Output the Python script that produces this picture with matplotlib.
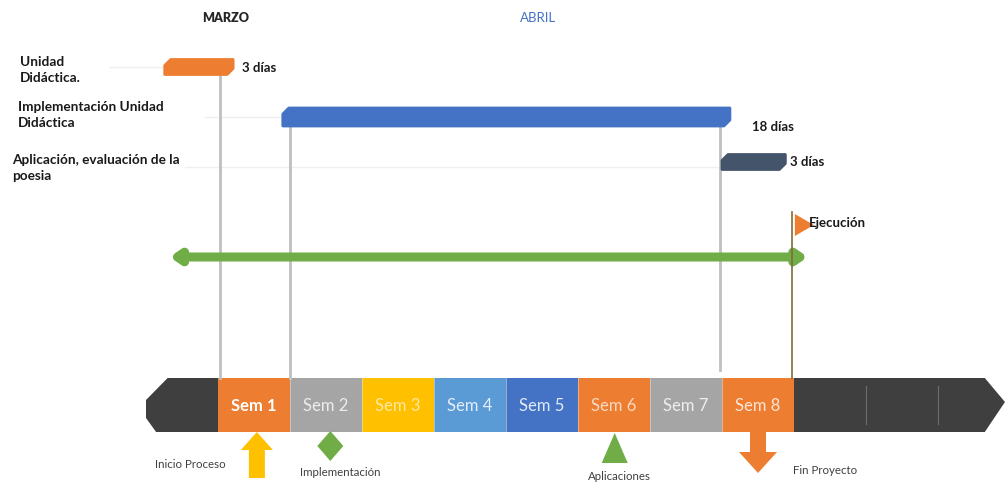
import matplotlib
matplotlib.use("Agg")
import matplotlib.pyplot as plt
from matplotlib.patches import Polygon
import numpy as np

# ---------------- data ----------------
weeks = ["Sem 1", "Sem 2", "Sem 3", "Sem 4", "Sem 5", "Sem 6", "Sem 7", "Sem 8"]
week_colors = ["#ED7D31", "#A5A5A5", "#FFC000", "#5B9BD5", "#4472C4", "#ED7D31", "#A5A5A5", "#ED7D31"]
week_text_colors = ["#FFFFFF", "#ECECEC", "#FFE9A0", "#E2EEF9", "#E2EAF7", "#FAD9C2", "#EEEEEE", "#FCE4D4"]

tasks = ["Unidad\nDidáctica.", "Implementación Unidad\nDidáctica", "Aplicación, evaluación de la\npoesia"]
task_start = [-0.74, 0.90, 7.00]   # in weeks (0 = start of Sem 1)
task_end = [0.21, 7.11, 7.88]
task_days = ["3 días", "18 días", "3 días"]
task_colors = ["#ED7D31", "#4472C4", "#44546A"]

exec_range = [-0.67, 8.19]        # green execution line
exec_milestone = 7.97
exec_label = "Ejecución"

milestones = ["Inicio Proceso", "Implementación", "Aplicaciones", "Fin Proyecto"]
milestone_pos = [0.54, 1.56, 5.51, 7.50]

months = ["MARZO", "ABRIL"]
month_pos = [0.10, 4.45]
month_colors = ["#262626", "#4472C4"]

# ---------------- layout ----------------
W, H = 1006, 482
X0, WK = 218.0, 72.0          # pixel position of week 0, pixel width of a week
fig = plt.figure(figsize=(W / 100, H / 100), dpi=100)
ax = fig.add_axes([0, 0, 1, 1])
ax.set_xlim(-X0 / WK, (W - X0) / WK)
ax.set_ylim(H, 0)
ax.axis("off")
px = 1.0 / WK  # one pixel in x-data units

LBL = ["Lato", "DejaVu Sans"]

# timeline band
tl_top, tl_bot = 378, 432
n = len(weeks)
left_end = -1.0
right_end = n + 2.65
dark = "#3F3F3F"
ax.add_patch(Polygon([(0, tl_top), (left_end + 0.3, tl_top), (left_end, 400), (left_end, 418),
                      (left_end + 0.14, tl_bot), (0, tl_bot)], closed=True, fc=dark, ec="none"))
ax.add_patch(Polygon([(n, tl_top), (right_end, tl_top), (right_end + 0.28, 402),
                      (right_end, tl_bot), (n, tl_bot)], closed=True, fc=dark, ec="none"))
for d in [n + 1, n + 2]:
    ax.plot([d, d], [tl_top + 8, tl_bot - 8], color="#6E6E6E", lw=0.8)
for i, (wname, c, tc) in enumerate(zip(weeks, week_colors, week_text_colors)):
    ax.add_patch(Polygon([(i, tl_top), (i + 1, tl_top), (i + 1, tl_bot), (i, tl_bot)],
                         closed=True, fc=c, ec="none"))
    if i > 0:
        ax.plot([i, i], [tl_top, tl_bot], color="#E6E6E6", lw=0.6, alpha=0.6)
    ax.text(i + 0.5, (tl_top + tl_bot) / 2 + 1, wname, color=tc, ha="center", va="center",
            fontsize=12, family=LBL, fontweight="bold" if i == 0 else "normal")

# month headers
for k, (m, p, c) in enumerate(zip(months, month_pos, month_colors)):
    ax.text(p, 18, m, ha="center", va="center", fontsize=9 if k == 0 else 9.5,
            color=c, family=LBL, fontweight="heavy" if k == 0 else "normal")

# task rows
row_y = [67, 117, 162]
row_h = [15, 18, 15]
label_x = [20, 18, 12]
label_y = [70, 115, 168]
faint = [(110, 165), (205, 283), (185, 720)]
for k in range(len(tasks)):
    y, h = row_y[k], row_h[k]
    ax.plot([(faint[k][0] - X0) * px, (faint[k][1] - X0) * px], [y + (0 if k < 2 else 5)] * 2,
            color="#EFEFEF", lw=1, zorder=0)
    s, e = task_start[k], task_end[k]
    c = 6 * px
    top, bot = y - h / 2, y + h / 2
    ax.add_patch(Polygon([(s, top + 6), (s + c, top), (e, top), (e, bot - 6), (e - c, bot), (s, bot)],
                         closed=True, fc=task_colors[k], ec=task_colors[k], lw=2, joinstyle="round", zorder=3))
    ax.text((label_x[k] - X0) * px, label_y[k], tasks[k], ha="left", va="center", fontsize=9.8,
            fontweight="bold", color="#1A1A1A", family=LBL, linespacing=1.35)

# duration labels
dur_pos = [(task_end[0] + 9 * px, 68), (task_end[1] + 22 * px, 127), (task_end[2] + 5 * px, 162)]
for t, (x, y) in zip(task_days, dur_pos):
    ax.text(x, y, t, ha="left", va="center", fontsize=9.5, fontweight="bold", color="#1A1A1A", family=LBL)

# vertical connector lines
vlines = [(task_start[0] + 55 * px, row_y[0] + 7), (task_start[1] + 7 * px, row_y[1] + 9),
          (task_start[2] - 2 * px, row_y[1] + 9)]
for x, y0 in vlines:
    ax.plot([x, x], [y0, tl_top if x < 5 else 370], color="#BFBFBF", lw=2, zorder=1)

# green execution double arrow
gy = 257
ax.annotate("", xy=(exec_range[0], gy), xytext=(exec_range[1], gy),
            arrowprops=dict(arrowstyle="<|-|>,head_length=0.5,head_width=0.35", color="#70AD47",
                            lw=6.5, shrinkA=0, shrinkB=0), zorder=2)

# execution milestone flag
ax.plot([exec_milestone, exec_milestone], [212, tl_top], color="#7F6A3A", lw=1.2, zorder=2)
ax.add_patch(Polygon([(exec_milestone + 3 * px, 214), (exec_milestone + 22 * px, 225),
                      (exec_milestone + 3 * px, 236)], closed=True, fc="#ED7D31", ec="none", zorder=3))
ax.text(exec_milestone + 17 * px, 223, exec_label, ha="left", va="center", fontsize=9.5,
        fontweight="bold", color="#1A1A1A", family=LBL, zorder=4)

# bottom milestones
mx = milestone_pos
# up arrow (yellow)
aw, hw = 8 * px, 16 * px
ax.add_patch(Polygon([(mx[0] - aw, 478), (mx[0] - aw, 450), (mx[0] - hw, 450), (mx[0], 432),
                      (mx[0] + hw, 450), (mx[0] + aw, 450), (mx[0] + aw, 478)], closed=True,
                     fc="#FFC000", ec="none"))
# diamond (green)
ax.add_patch(Polygon([(mx[1], 431), (mx[1] + 13 * px, 446), (mx[1], 461), (mx[1] - 13 * px, 446)],
                     closed=True, fc="#70AD47", ec="none"))
# triangle (green)
ax.add_patch(Polygon([(mx[2], 433), (mx[2] + 13 * px, 463), (mx[2] - 13 * px, 463)],
                     closed=True, fc="#70AD47", ec="none"))
# down arrow (orange)
ax.add_patch(Polygon([(mx[3] - aw, 432), (mx[3] - aw, 452), (mx[3] - 19 * px, 452), (mx[3], 473),
                      (mx[3] + 19 * px, 452), (mx[3] + aw, 452), (mx[3] + aw, 432)], closed=True,
                     fc="#ED7D31", ec="none"))

ml_pos = [(155, 465), (300, 472), (588, 476), (793, 470)]
for t, (x, y) in zip(milestones, ml_pos):
    ax.text((x - X0) * px, y, t, ha="left", va="center", fontsize=8.3, color="#404040", family=LBL)

fig.savefig("out.png", dpi=100)
